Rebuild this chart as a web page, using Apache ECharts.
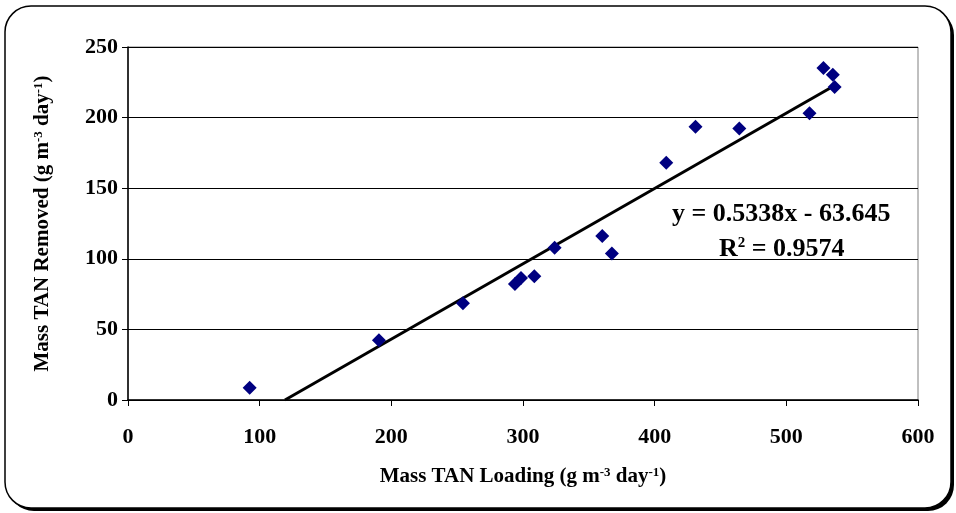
<!DOCTYPE html>
<html>
<head>
<meta charset="utf-8">
<script src="https://cdn.jsdelivr.net/npm/echarts@6/dist/echarts.min.js"></script>
<style>
  html, body { margin: 0; padding: 0; background: #fff; }
  #chart { width: 956px; height: 513px; }
</style>
</head>
<body>
<div id="chart"></div>
<script>
// measured points
const loading = [92.4, 190.6, 254.4, 293.9, 298.5, 308.6, 324, 360.2, 367.5, 408.8, 431, 464.3, 517.6, 528.2, 535.3, 536.7];
const removed = [8.6, 42.4, 68.6, 82.1, 86.4, 87.6, 107.9, 116.1, 103.8, 168, 193.6, 192.3, 203, 235.2, 230.4, 221.6];

// linear trend line ends
const trendX = [119.2, 535];
const trendY = [0, 221.9];

const eqText = 'y = 0.5338x - 63.645';
const r2Text = '0.9574';

const xTicks = [0, 100, 200, 300, 400, 500, 600];
const yTicks = [0, 50, 100, 150, 200, 250];

document.addEventListener('DOMContentLoaded', function () {
  let chart = echarts.init(document.querySelector('#chart'));
  let font = '"Liberation Serif", "Times New Roman", serif';

  let points = loading.map(function (x, i) { return [x, removed[i]]; });
  let trend = trendX.map(function (x, i) { return [x, trendY[i]]; });

  let titleRich = {
    t: { fontFamily: font, fontSize: 21, fontWeight: 'bold', color: '#000' },
    s: { fontFamily: font, fontSize: 13, fontWeight: 'bold', color: '#000', verticalAlign: 'top', padding: [0, 0, 9, 0] }
  };

  let option = {
    animation: false,
    backgroundColor: '#fff',
    textStyle: { fontFamily: font },
    grid: {
      left: 128, right: 38, top: 47, bottom: 113,
      show: true, borderColor: '#808080', borderWidth: 1
    },
    xAxis: {
      type: 'value', min: xTicks[0], max: xTicks[xTicks.length - 1], interval: 100,
      axisLine: { show: true, onZero: false, lineStyle: { color: '#000', width: 1.5 } },
      axisTick: { show: true, length: 6, lineStyle: { color: '#000' } },
      splitLine: { show: false },
      axisLabel: { color: '#000', fontFamily: font, fontSize: 22, fontWeight: 'bold', margin: 26 },
      name: '{t|Mass TAN Loading (g m}{s|-3}{t| day}{s|-1}{t|)}',
      nameLocation: 'middle', nameGap: 66,
      nameTextStyle: { rich: titleRich }
    },
    yAxis: {
      type: 'value', min: yTicks[0], max: yTicks[yTicks.length - 1], interval: 50,
      axisLine: { show: true, lineStyle: { color: '#000', width: 1.5 } },
      axisTick: { show: true, length: 6, lineStyle: { color: '#000' } },
      splitLine: { show: true, lineStyle: { color: '#000', width: 1 } },
      axisLabel: { color: '#000', fontFamily: font, fontSize: 22, fontWeight: 'bold', margin: 10 },
      name: '{t|Mass TAN Removed (g m}{s|-3}{t| day}{s|-1}{t|)}',
      nameLocation: 'middle', nameGap: 74, nameRotate: 90,
      nameTextStyle: { rich: titleRich }
    },
    graphic: [
      { type: 'rect', z: -20, shape: { x: 8, y: 9, width: 946, height: 502, r: 26 }, style: { fill: '#000' } },
      { type: 'rect', z: -19, shape: { x: 5, y: 6, width: 946, height: 502, r: 26 }, style: { fill: '#fff', stroke: '#000', lineWidth: 1.5 } },
      {
        type: 'text', left: 672, top: 201, z: 100,
        style: { text: eqText, font: 'bold 26px ' + font, fill: '#000' }
      },
      {
        type: 'text', left: 719, top: 236, z: 100,
        style: {
          text: '{t|R}{s|2}{t| = ' + r2Text + '}',
          rich: {
            t: { font: 'bold 26px ' + font, fill: '#000' },
            s: { font: 'bold 15px ' + font, fill: '#000', verticalAlign: 'top', padding: [0, 0, 12, 0] }
          }
        }
      }
    ],
    series: [
      {
        type: 'line', data: trend, showSymbol: false, symbol: 'none',
        lineStyle: { color: '#000', width: 3 }, z: 3
      },
      {
        type: 'scatter', data: points, symbol: 'diamond', symbolSize: [14, 14],
        itemStyle: { color: '#000080', opacity: 1 }, z: 4
      }
    ]
  };

  chart.setOption(option);
});
</script>
</body>
</html>
